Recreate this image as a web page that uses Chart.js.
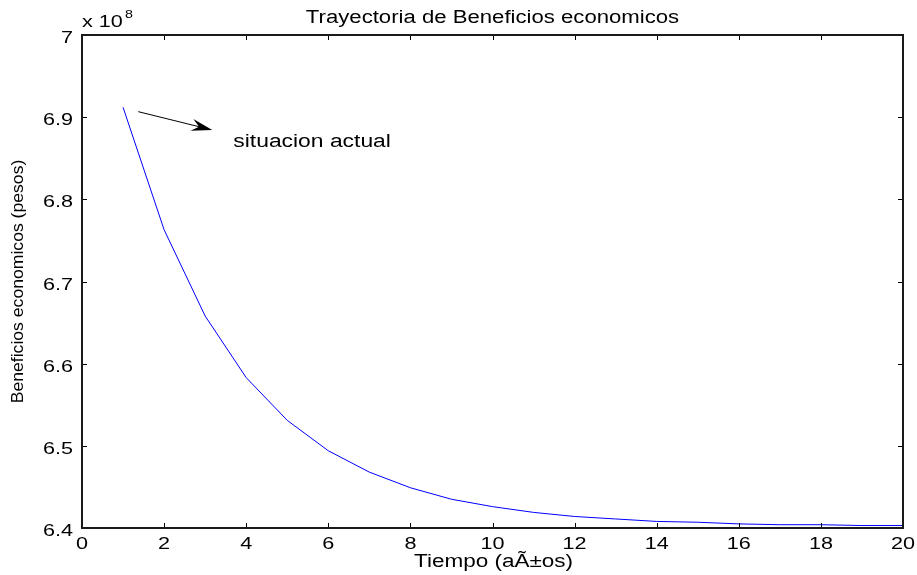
<!DOCTYPE html>
<html>
<head>
<meta charset="utf-8">
<title>Trayectoria de Beneficios economicos</title>
<script src="https://cdn.jsdelivr.net/npm/chart.js@4.4.1/dist/chart.umd.min.js"></script>
<style>
    html, body { margin: 0; padding: 0; background: #fff; }
    #wrap { width: 917px; height: 575px; }
</style>
</head>
<body>
<div id="wrap"><canvas id="grafico" width="917" height="575"></canvas></div>
<script>
// Tiempo en años
var anios = [1, 2, 3, 4, 5, 6, 7, 8, 9, 10, 11, 12, 13, 14, 15, 16, 17, 18, 19, 20];
// Beneficios en unidades de 10^8 pesos
var beneficios = [6.912, 6.763, 6.658, 6.583, 6.531, 6.494, 6.468, 6.449, 6.435, 6.426,
                  6.419, 6.414, 6.411, 6.408, 6.407, 6.405, 6.404, 6.404, 6.403, 6.403];
var limitesX = [0, 20];
var limitesY = [6.4, 7];
var pasoX = 2;
var pasoY = 0.1;

var titulo = 'Trayectoria de Beneficios economicos';
var etiquetaX = 'Tiempo (aÃ±os)';
var etiquetaY = 'Beneficios economicos (pesos)';
var nota = 'situacion actual';
// flecha de la nota (coordenadas de datos)
var flechaDesde = [1.371, 6.9067];
var flechaHasta = [3.174, 6.8844];
var notaEn = [3.686, 6.8637];

var FUENTE = '"Liberation Sans", Arial, Helvetica, sans-serif';

function textoAncho(ctx, txt, x, y, sx, align, size) {
    ctx.save();
    ctx.font = size + 'px ' + FUENTE;
    ctx.translate(x, y);
    ctx.scale(sx, 1);
    ctx.textAlign = align;
    ctx.textBaseline = 'alphabetic';
    ctx.fillText(txt, 0, 0);
    ctx.restore();
}

function fmt(v) {
    return String(parseFloat(v.toFixed(1)));
}

// marco, marcas, rótulos y anotación estilo MATLAB
var ejesMatlab = {
    id: 'ejesMatlab',
    beforeDraw: function(chart) {
        var ctx = chart.ctx;
        ctx.save();
        ctx.fillStyle = '#fff';
        ctx.fillRect(0, 0, chart.width, chart.height);
        ctx.restore();
    },
    afterDraw: function(chart) {
        var ctx = chart.ctx;
        var a = chart.chartArea;
        var sx = chart.scales.x, sy = chart.scales.y;
        ctx.save();

        // marcas hacia adentro en los cuatro lados
        ctx.strokeStyle = '#000';
        ctx.lineWidth = 1;
        ctx.beginPath();
        sx.ticks.forEach(function(t) {
            var px = Math.round(sx.getPixelForValue(t.value)) + 0.5;
            ctx.moveTo(px, a.bottom); ctx.lineTo(px, a.bottom - 5);
            ctx.moveTo(px, a.top); ctx.lineTo(px, a.top + 5);
        });
        sy.ticks.forEach(function(t) {
            var py = Math.round(sy.getPixelForValue(t.value)) + 0.5;
            ctx.moveTo(a.left, py); ctx.lineTo(a.left + 5, py);
            ctx.moveTo(a.right, py); ctx.lineTo(a.right - 5, py);
        });
        ctx.stroke();

        // marco
        ctx.lineWidth = 2;
        ctx.strokeStyle = '#1a1a1a';
        ctx.strokeRect(a.left, a.top, a.right - a.left, a.bottom - a.top);

        ctx.fillStyle = '#000';
        // rótulos de marcas
        sx.ticks.forEach(function(t) {
            textoAncho(ctx, fmt(t.value), sx.getPixelForValue(t.value), a.bottom + 21, 1.35, 'center', 16);
        });
        sy.ticks.forEach(function(t) {
            textoAncho(ctx, fmt(t.value), a.left - 9, sy.getPixelForValue(t.value) + 8, 1.35, 'right', 16);
        });

        // exponente
        textoAncho(ctx, 'x 10', a.left, 27, 1.35, 'left', 16);
        textoAncho(ctx, '8', a.left + 43, 18, 1.3, 'left', 11);

        // título y etiquetas
        var cx = (a.left + a.right) / 2;
        textoAncho(ctx, titulo, cx, 23, 1.23, 'center', 18);
        textoAncho(ctx, etiquetaX, cx + 1, 567, 1.25, 'center', 18);
        ctx.save();
        ctx.translate(23, (a.top + a.bottom) / 2);
        ctx.rotate(-Math.PI / 2);
        textoAncho(ctx, etiquetaY, 0, 0, 1.1, 'center', 16);
        ctx.restore();

        // flecha con punta rellena
        var x0 = sx.getPixelForValue(flechaDesde[0]), y0 = sy.getPixelForValue(flechaDesde[1]);
        var x1 = sx.getPixelForValue(flechaHasta[0]), y1 = sy.getPixelForValue(flechaHasta[1]);
        var ang = Math.atan2(y1 - y0, x1 - x0);
        var largo = 21, ancho = 6;
        ctx.lineWidth = 1;
        ctx.strokeStyle = '#000';
        ctx.beginPath();
        ctx.moveTo(x0, y0);
        ctx.lineTo(x1 - Math.cos(ang) * largo * 0.6, y1 - Math.sin(ang) * largo * 0.6);
        ctx.stroke();
        ctx.save();
        ctx.translate(x1, y1);
        ctx.rotate(ang);
        ctx.beginPath();
        ctx.moveTo(0, 0);
        ctx.lineTo(-largo, -ancho);
        ctx.lineTo(-largo * 0.65, 0);
        ctx.lineTo(-largo, ancho);
        ctx.closePath();
        ctx.fill();
        ctx.restore();

        textoAncho(ctx, nota, sx.getPixelForValue(notaEn[0]), sy.getPixelForValue(notaEn[1]), 1.27, 'left', 18);

        ctx.restore();
    }
};

var puntos = anios.map(function(t, i) { return { x: t, y: beneficios[i] }; });

new Chart(document.getElementById('grafico').getContext('2d'), {
    type: 'line',
    data: {
        datasets: [{
            data: puntos,
            borderColor: '#0000ff',
            borderWidth: 1,
            pointRadius: 0,
            tension: 0,
            fill: false
        }]
    },
    options: {
        responsive: false,
        animation: false,
        layout: { padding: { left: 0, top: 35, right: 14, bottom: 0 } },
        plugins: {
            legend: { display: false },
            tooltip: { enabled: false },
            title: { display: false }
        },
        scales: {
            x: {
                type: 'linear',
                min: limitesX[0],
                max: limitesX[1],
                ticks: { stepSize: pasoX, display: false },
                grid: { display: false },
                border: { display: false },
                afterFit: function(s) { s.height = 47; }
            },
            y: {
                type: 'linear',
                min: limitesY[0],
                max: limitesY[1],
                ticks: { stepSize: pasoY, display: false },
                grid: { display: false },
                border: { display: false },
                afterFit: function(s) { s.width = 82; }
            }
        }
    },
    plugins: [ejesMatlab]
});
</script>
</body>
</html>
